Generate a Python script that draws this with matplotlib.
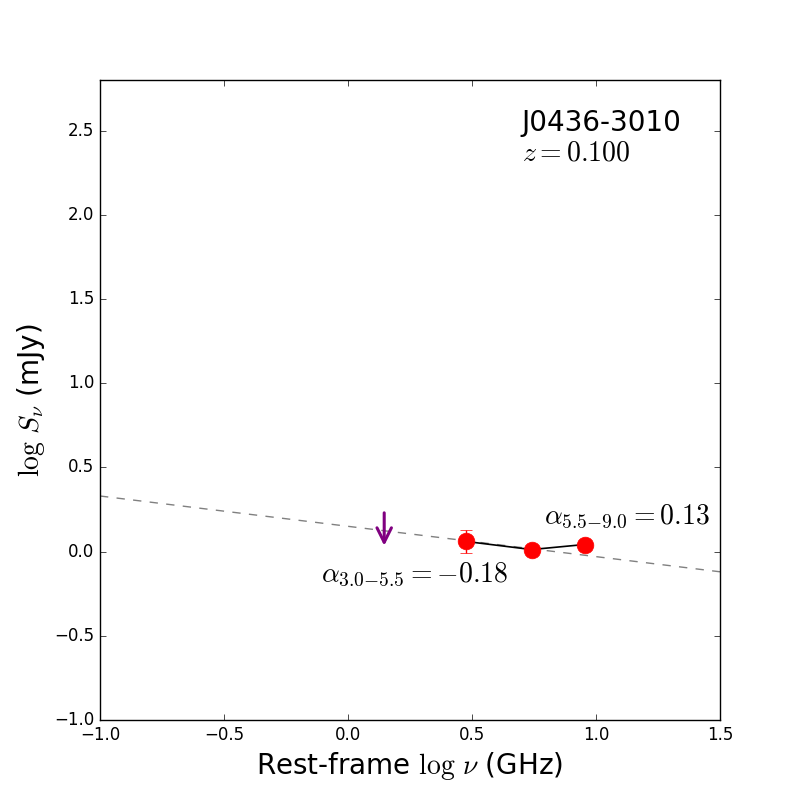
import numpy as np
import matplotlib
matplotlib.use("Agg")
import matplotlib.pyplot as plt

plt.style.use("classic")
plt.rcParams["mathtext.fontset"] = "cm"
plt.rcParams["figure.facecolor"] = "white"
plt.rcParams["savefig.facecolor"] = "white"

NOME_FONTE = "J0436-3010"
REDSHIFT = "$z{=}0.100$"

# dados
log_nu = [0.477, 0.740, 0.954]
log_s = [0.06, 0.012, 0.042]
erro_s = [0.07, 0.0, 0.0]

lim_x = 0.146
lim_topo = 0.23
lim_base = 0.035

ajuste_x = [-1.0, 1.5]
ajuste_y = [0.33, -0.12]

fig, ax = plt.subplots(figsize=(8, 8), dpi=100)

ax.plot(ajuste_x, ajuste_y, "--", color="gray", lw=1)
ax.plot(log_nu, log_s, "-", color="black", lw=1.2)
ax.errorbar(log_nu, log_s, yerr=erro_s, fmt="o", color="red", mec="red",
            ms=12, ecolor="red", capsize=4, elinewidth=1)

ax.annotate("", xy=(lim_x, lim_base), xytext=(lim_x, lim_topo),
            arrowprops=dict(arrowstyle="->", color="purple", lw=2.2,
                            mutation_scale=26, shrinkA=0, shrinkB=0))

ax.text(0.79, 0.165, r"$\alpha_{5.5{-}9.0}{=}0.13$", fontsize=20)
ax.text(-0.11, -0.18, r"$\alpha_{3.0{-}5.5}{=}{-}0.18$", fontsize=20)

ax.text(0.7, 2.5, NOME_FONTE, fontsize=20)
ax.text(0.7, 2.32, REDSHIFT, fontsize=20)

ax.set_xlim(-1.0, 1.5)
ax.set_ylim(-1.0, 2.8)
ax.set_xticks(np.arange(-1.0, 1.51, 0.5))
ax.set_yticks(np.arange(-1.0, 2.51, 0.5))
ax.tick_params(labelsize=12)

ax.set_xlabel(r"Rest-frame $\log\,\nu$ (GHz)", fontsize=20)
ax.set_ylabel(r"$\log\,S_\nu$ (mJy)", fontsize=20)

plt.savefig("out.png", dpi=100)
